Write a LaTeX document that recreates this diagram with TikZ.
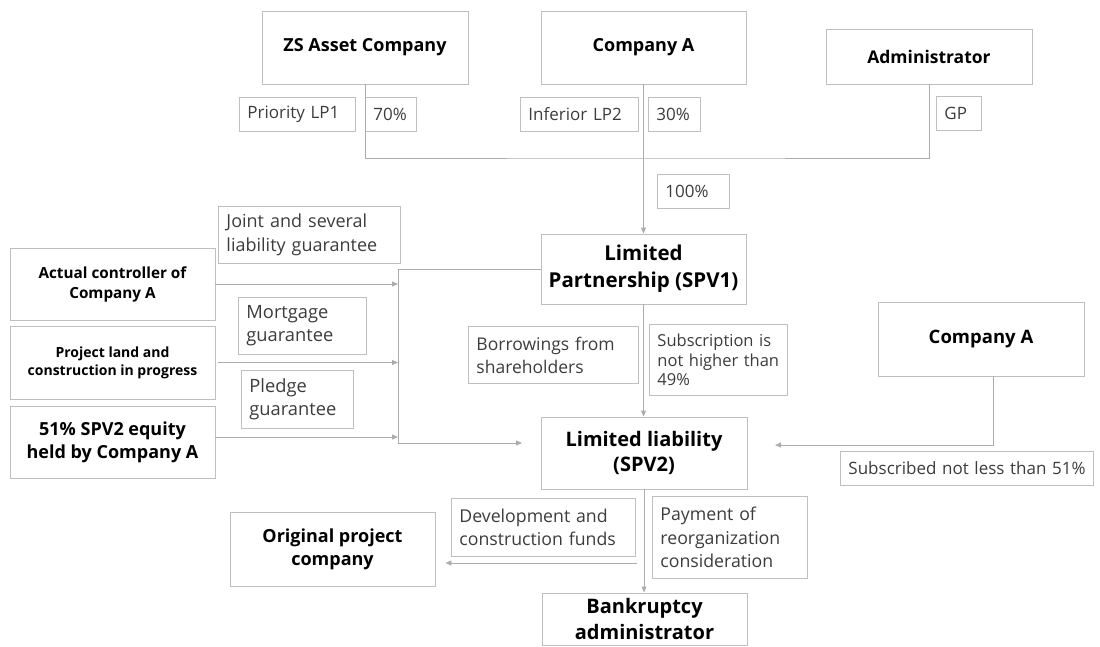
\documentclass[tikz,border=0pt]{standalone}
\usepackage{fontspec}
\setmainfont{Open Sans}
\usetikzlibrary{arrows.meta,calc}
\definecolor{boxline}{RGB}{191,191,191}
\definecolor{arrline}{RGB}{172,172,172}
\definecolor{labtext}{RGB}{60,60,60}
\newcommand{\fs}[2]{\fontsize{#1}{#2}\selectfont}

\begin{document}
\begin{tikzpicture}[x=1pt, y=-1pt,
    tbox/.style={draw=boxline, line width=0.9pt, align=center, inner sep=0pt, text=black},
    lbox/.style={draw=boxline, line width=0.9pt, anchor=north west, align=left, inner xsep=8pt, inner ysep=0pt, text=labtext},
    arr/.style={draw=arrline, line width=0.9pt, -{Triangle[length=6pt,width=5pt]}},
    lin/.style={draw=arrline, line width=0.9pt}]
    %%%%% START %%%%%
    \useasboundingbox (0,0) rectangle (1100,646);

    % owners
    \node[tbox, minimum width=206pt, minimum height=73pt, font=\fs{18}{22}\bfseries] (zs) at (365,47.5) {ZS Asset Company};
    \node[tbox, minimum width=205pt, minimum height=73pt, font=\fs{18}{22}\bfseries] (coa) at (643.5,47.5) {Company A};
    \node[tbox, minimum width=206pt, minimum height=55pt, font=\fs{17.5}{22}\bfseries] (adm) at (929,56.5) {Administrator};

    \node[lbox, text width=100pt, minimum height=34pt, font=\fs{17}{21}] (lp1) at (239,97) {Priority LP1};
    \node[lbox, text width=35pt, minimum height=34pt, font=\fs{17}{21}] (p70) at (365,97) {70\%};
    \node[lbox, text width=102pt, minimum height=34pt, font=\fs{17}{21}] (lp2) at (520,97) {Inferior LP2};
    \node[lbox, text width=36pt, minimum height=34pt, font=\fs{17}{21}] (p30) at (648,97) {30\%};
    \node[lbox, text width=29pt, minimum height=34pt, font=\fs{17}{21}] (gp) at (936,96) {GP};
    \node[lbox, text width=56pt, minimum height=34pt, font=\fs{17}{21}] (p100) at (657,174) {100\%};

    % guarantors
    \node[tbox, minimum width=205pt, minimum height=72pt, font=\fs{15.3}{20}\bfseries] (ctrl) at (112.5,284) {Actual controller of\\Company A};
    \node[tbox, minimum width=205pt, minimum height=73pt, font=\fs{14}{18}\bfseries] (land) at (112.5,362.5) {Project land and\\construction in progress};
    \node[tbox, minimum width=205pt, minimum height=72pt, font=\fs{18}{23}\bfseries] (eq51) at (112.5,442) {51\% SPV2 equity\\held by Company A};

    \node[lbox, text width=166pt, minimum height=57pt, font=\fs{18}{24}] (joint) at (218,206) {Joint and several\\liability guarantee};
    \node[lbox, text width=112pt, minimum height=57pt, font=\fs{18.3}{23}] (mort) at (238,297) {Mortgage\\guarantee};
    \node[lbox, text width=96pt, minimum height=58pt, font=\fs{18.3}{23}] (pledge) at (241,370) {Pledge\\guarantee};

    % vehicles
    \node[tbox, minimum width=205pt, minimum height=70pt, font=\fs{20.5}{27}\bfseries] (spv1) at (643.5,269) {Limited\\Partnership (SPV1)};
    \node[tbox, minimum width=206pt, minimum height=72pt, font=\fs{20}{25}\bfseries] (spv2) at (644,453) {Limited liability\\(SPV2)};
    \node[tbox, minimum width=206pt, minimum height=74pt, font=\fs{18.5}{22}\bfseries] (coa2) at (981,339) {Company A};

    \node[lbox, text width=154pt, minimum height=57pt, font=\fs{17.5}{23}] (borrow) at (468,326) {Borrowings from\\shareholders};
    \node[lbox, text width=122pt, minimum height=71pt, font=\fs{16.5}{19.5}] (subs) at (649,324) {Subscription is\\not higher than\\49\%};
    \node[lbox, text width=237pt, minimum height=34pt, font=\fs{17}{21}] (sub51) at (840,451) {\mbox{Subscribed not less than 51\%}};

    % bottom
    \node[tbox, minimum width=205pt, minimum height=74pt, font=\fs{18}{23}\bfseries] (orig) at (332.5,549) {Original project\\company};
    \node[tbox, minimum width=205pt, minimum height=52pt, font=\fs{20}{26}\bfseries] (bank) at (644.5,619) {Bankruptcy\\administrator};

    \node[lbox, text width=168pt, minimum height=58pt, font=\fs{17.7}{23}] (devel) at (451,498) {Development and\\construction funds};
    \node[lbox, text width=139pt, minimum height=82pt, font=\fs{17.7}{23.5}] (pay) at (652,496) {Payment of\\reorganization\\consideration};

    % connectors
    \coordinate (jn) at (644,158);
    \coordinate (brk) at (398,270);
    \coordinate (brkb) at (398,443);
    \coordinate (t1) at (522,443);
    \coordinate (t2) at (775,445);
    \coordinate (fsrc) at (637,563);

    \draw[lin] (zs.south) |- (jn) -| (adm.south);
    \draw[arr] (coa.south) -- (coa.south |- spv1.north);

    \draw[arr] (spv1.west) -| (brkb) -- (t1);
    \draw[arr] (ctrl.east) -- (ctrl.east -| brk);
    \draw[arr] ([xshift=3pt]land.east) -- (land.east -| brk);
    \draw[arr] ([yshift=5pt]eq51.east) -- ([yshift=5pt]eq51.east -| brk);

    \draw[arr] (spv1.south) -- (spv1.south |- spv2.north);
    \draw[arr] ([xshift=12pt]coa2.south) |- (t2);
    \draw[arr] (spv2.south) -- (spv2.south |- bank.north);
    \draw[arr] (fsrc) -- ($(orig.east |- fsrc)+(10,0)$);
    %%%%% END %%%%%
\end{tikzpicture}
\end{document}
